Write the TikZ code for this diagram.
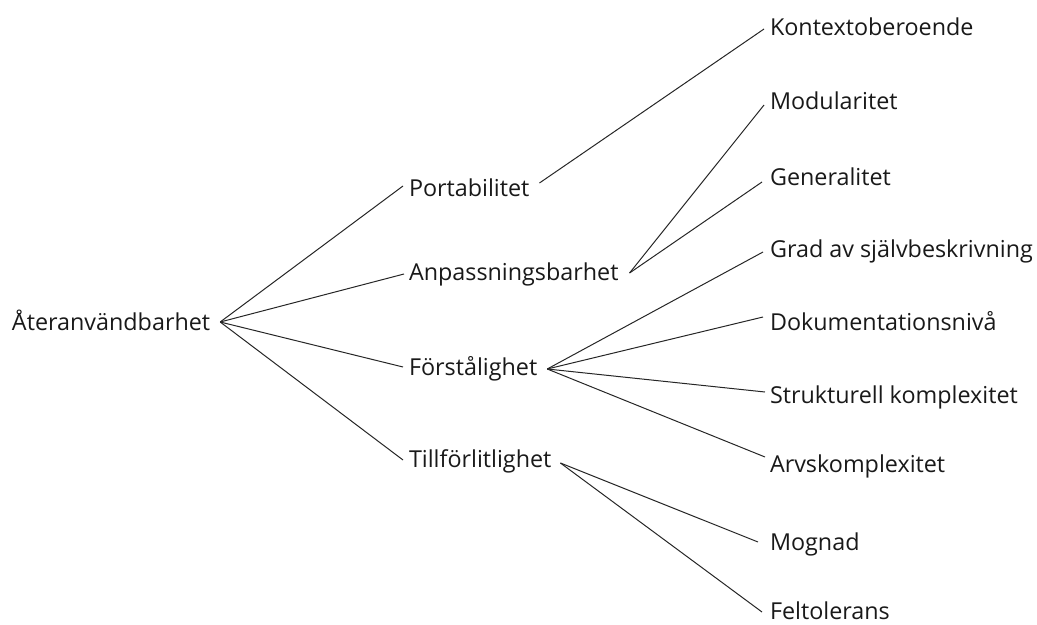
\documentclass[tikz,border=0pt]{standalone}
\usepackage{fontspec}
\setmainfont{Open Sans}
\begin{document}
\begin{tikzpicture}[x=0.75pt,y=-0.75pt,
  lbl/.style={anchor=base west, inner sep=0pt, outer sep=0pt,
    font=\fontsize{17.5}{20}\selectfont, text=black!90},
  link/.style={line width=0.75pt, black!85}]
\useasboundingbox (0,0) rectangle (1037,624);
% root
\node[lbl] (root) at (12,330) {Återanvändbarhet};
% second level
\node[lbl] (port) at (409,196) {Portabilitet};
\node[lbl] (anp)  at (409,280) {Anpassningsbarhet};
\node[lbl] (forst) at (409,375) {Förstålighet};
\node[lbl] (till) at (409,467) {Tillförlitlighet};
% leaves
\node[lbl] (kont) at (770,36)  {Kontextoberoende};
\node[lbl] (mod)  at (770,110) {Modularitet};
\node[lbl] (gen)  at (770,185) {Generalitet};
\node[lbl] (grad) at (770,257) {Grad av självbeskrivning};
\node[lbl] (dok)  at (770,330) {Dokumentationsnivå};
\node[lbl] (strk) at (770,403) {Strukturell komplexitet};
\node[lbl] (arv)  at (770,472) {Arvskomplexitet};
\node[lbl] (mogn) at (770,550) {Mognad};
\node[lbl] (felt) at (770,619) {Feltolerans};
% fan points on the right of each parent
\coordinate (rootR)  at ([shift={(10,-8)}]root.base east);
\coordinate (portR)  at ([shift={(10,-13)}]port.base east);
\coordinate (anpR)   at ([shift={(11,-7)}]anp.base east);
\coordinate (forstR) at ([shift={(10,-6)}]forst.base east);
\coordinate (tillR)  at ([shift={(9,-4)}]till.base east);
% root to second level
\draw[link] (rootR) -- ([shift={(-6,-10)}]port.base west);
\draw[link] (rootR) -- ([shift={(-5,-6)}]anp.base west);
\draw[link] (rootR) -- ([shift={(-6,-8)}]forst.base west);
\draw[link] (rootR) -- ([shift={(-6,-7)}]till.base west);
% second level to leaves
\draw[link] (portR) -- ([shift={(-6,-7)}]kont.base west);
\draw[link] (anpR) -- ([shift={(-6,-5)}]mod.base west);
\draw[link] (anpR) -- ([shift={(-8,-3)}]gen.base west);
\draw[link] (forstR) -- ([shift={(-7,-5)}]grad.base west);
\draw[link] (forstR) -- ([shift={(-7,-13)}]dok.base west);
\draw[link] (forstR) -- ([shift={(-5,-11)}]strk.base west);
\draw[link] (forstR) -- ([shift={(-5,-15)}]arv.base west);
\draw[link] (tillR) -- ([shift={(-12,-8)}]mogn.base west);
\draw[link] (tillR) -- ([shift={(-8,-7)}]felt.base west);
\end{tikzpicture}
\end{document}
